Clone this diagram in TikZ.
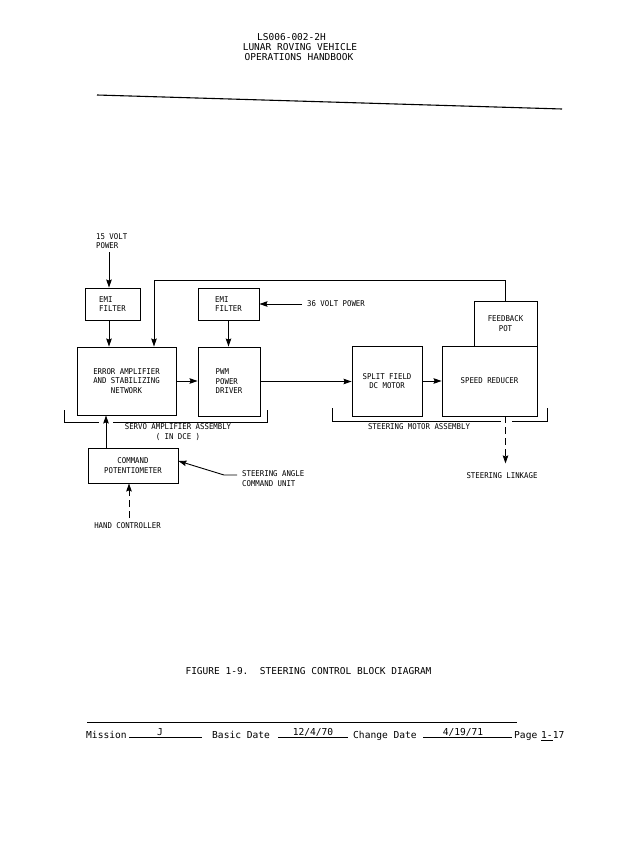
\documentclass[tikz,border=0pt]{standalone}
\usepackage{fontspec}
\usetikzlibrary{arrows.meta}
\newfontfamily\labfont[FakeStretch=0.92]{DejaVu Sans Mono}
\newfontfamily\hdrfont{DejaVu Sans Mono}
\begin{document}
\begin{tikzpicture}[x=1pt,y=-1pt,
  blk/.style={draw, line width=0.9pt, inner sep=0pt, align=center, font=\labfont\fontsize{8}{9.5}\selectfont},
  lbl/.style={inner sep=0pt, font=\labfont\fontsize{8}{9.5}\selectfont},
  arr/.style={line width=0.9pt, -{Stealth[length=8pt,width=5.5pt,inset=1pt]}},
  ln/.style={line width=0.9pt},
  dsh/.style={dash pattern=on 7pt off 4pt},
  hdr/.style={inner sep=0pt, font=\hdrfont\fontsize{9.5}{11}\selectfont},
  ftr/.style={inner sep=0pt, font=\hdrfont\fontsize{9.6}{11}\selectfont},
]
\fill[white] (0,0) rectangle (640,843);
\useasboundingbox (0,0) rectangle (640,843);

% header
\node[hdr, anchor=base] (h1) at (291.5,40.5) {LS006-002-2H};
\node[hdr, anchor=base] (h2) at (300,51) {LUNAR ROVING VEHICLE};
\node[hdr, anchor=base] (h3) at (299,61) {OPERATIONS HANDBOOK};
\draw[line width=1.1pt] (97,95) -- (562,109);

% blocks
\node[blk, align=left, minimum width=55pt, minimum height=32pt] (emi1) at (112.5,304) {EMI\\FILTER};
\node[blk, align=left, minimum width=61pt, minimum height=32pt] (emi2) at (228.5,304) {EMI\\FILTER};
\node[blk, minimum width=99pt, minimum height=68pt] (err) at (126.5,381) {ERROR AMPLIFIER\\AND STABILIZING\\NETWORK};
\node[blk, align=left, minimum width=62pt, minimum height=69pt] (pwm) at (229,381.5) {PWM\\POWER\\DRIVER};
\node[blk, minimum width=70pt, minimum height=70pt] (split) at (387,381) {SPLIT FIELD\\DC MOTOR};
\node[blk, minimum width=95pt, minimum height=70pt] (speed) at (489.5,381) {SPEED REDUCER};
\node[blk, minimum width=63pt, minimum height=45pt] (fb) at (505.5,323.5) {FEEDBACK\\POT};
\node[blk, minimum width=90pt, minimum height=35pt] (cmd) at (133,465.5) {COMMAND\\POTENTIOMETER};

% labels
\node[lbl, anchor=west, align=left] (v15) at (96,241) {15 VOLT\\POWER};
\node[lbl, anchor=west] (v36) at (307,304) {36 VOLT POWER};
\node[lbl, align=center] (sva) at (178,432) {SERVO AMPLIFIER ASSEMBLY\\( IN DCE )};
\node[lbl] (sma) at (419,427) {STEERING MOTOR ASSEMBLY};
\node[lbl] (sl) at (502,476) {STEERING LINKAGE};
\node[lbl, anchor=west, align=left] (sa) at (242,478.5) {STEERING ANGLE\\COMMAND UNIT};
\node[lbl] (hc) at (127.5,526) {HAND CONTROLLER};

% connectors
\coordinate (a15) at (109,252);
\draw[arr] (a15) -- (a15 |- emi1.north);
\draw[arr] (a15 |- emi1.south) -- (a15 |- err.north);
\coordinate (fbk) at (154,280);
\draw[arr] (fb.north) |- (fbk) -- (fbk |- err.north);
\draw[arr] ([xshift=-5pt]v36.west) -- (emi2.east);
\draw[arr] (emi2.south) -- (emi2.south |- pwm.north);
\draw[arr] (err.east) -- (err.east -| pwm.west);
\draw[arr] (pwm.east) -- (pwm.east -| split.west);
\draw[arr] (split.east) -- (split.east -| speed.west);
\coordinate (c106) at ([xshift=-27pt]cmd.north);
\draw[arr] (c106) -- (c106 |- err.south);
\coordinate (sak) at (224,475);
\draw[arr] ([xshift=-5pt,yshift=3.5pt]sa.west) -- (sak) -- ([yshift=4.5pt]cmd.east);
\coordinate (hcx) at (129,518);
\draw[arr,dsh] (hcx) -- (hcx |- cmd.south);
\coordinate (c506) at ([xshift=16pt]speed.south);
\draw[arr,dsh] (c506) -- ++(0,47);

% brackets
\draw[ln] (64,410) -- (64,422) -- (99,422);
\draw[ln] (113,422) -- (267,422) -- (267,410);
\draw[ln] (332,408) -- (332,421) -- (501,421);
\draw[ln] (512,421) -- (547,421) -- (547,408);

% caption
\node[hdr] (cap) at (308.5,671) {FIGURE 1-9.\ \ STEERING CONTROL BLOCK DIAGRAM};

% footer
\draw[ln] (87,722) -- (517,722);
\node[ftr, anchor=base west] (fm) at (86,738) {Mission};
\draw[ln] (129,737) -- (202,737);
\node[ftr, anchor=base] (fj) at (160,735) {J};
\node[ftr, anchor=base west] (fb1) at (212,738) {Basic Date};
\draw[ln] (278,737) -- (348,737);
\node[ftr, anchor=base] (fbd) at (313,735) {12/4/70};
\node[ftr, anchor=base west] (fc) at (353,738) {Change Date};
\draw[ln] (423,737) -- (512,737);
\node[ftr, anchor=base] (fcd) at (463,735) {4/19/71};
\node[ftr, anchor=base west] (fp) at (514,738) {Page};
\node[ftr, anchor=base west] (fpn) at (541,738) {1-17};
\draw[ln] (541,740) -- (553,740);
\end{tikzpicture}
\end{document}
